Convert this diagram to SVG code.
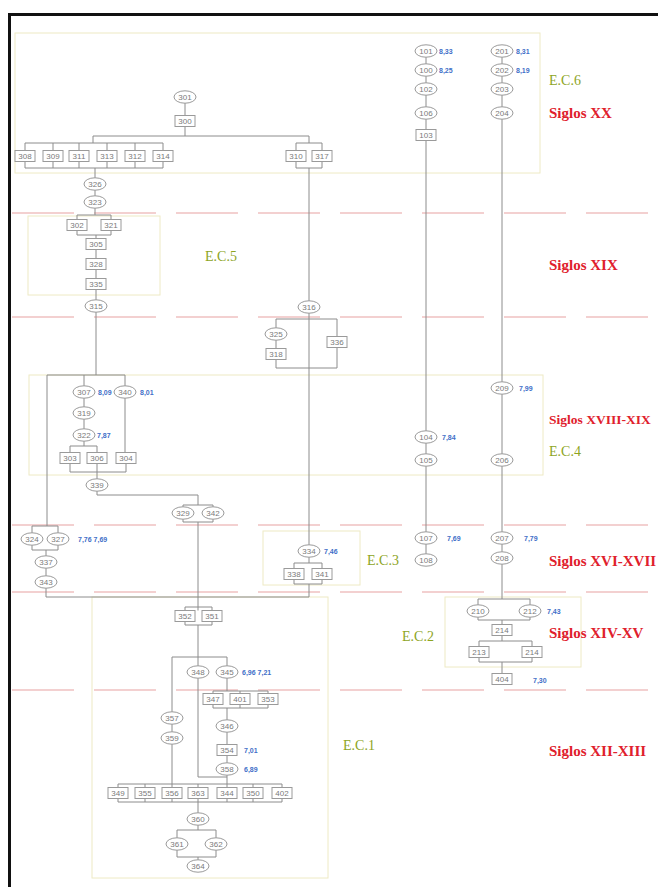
<svg xmlns="http://www.w3.org/2000/svg" width="658" height="887" viewBox="0 0 658 887">
<style>
.e{fill:#fff;stroke:#9a9a9a;stroke-width:1}
.r{fill:#fff;stroke:#9a9a9a;stroke-width:1}
.t{font-family:"Liberation Sans",Arial,sans-serif;font-size:8px;fill:#7a7a7a;text-anchor:middle;dominant-baseline:central}
.v{font-family:"Liberation Sans",Arial,sans-serif;font-size:7px;font-weight:bold;fill:#3f6fc8;dominant-baseline:central}
.ln{fill:none;stroke:#8c8c8c;stroke-width:1}
.dash{stroke:#e8a2a2;stroke-width:1.2;stroke-dasharray:62 20}
.box{fill:none;stroke:#eeeac4;stroke-width:1}
.ec{font-family:"Liberation Serif","Times New Roman",serif;font-size:14px;fill:#8ea41e}
.sg{font-family:"Liberation Serif","Times New Roman",serif;font-size:15px;font-weight:bold;fill:#e0202c}
</style>
<defs>
<ellipse id="E" class="e" cx="0" cy="0" rx="11" ry="6.2"/>
<rect id="R" class="r" x="-10" y="-5.5" width="20" height="11"/>
</defs>
<rect x="0" y="0" width="658" height="887" fill="#fff"/>

<g id="bands">
<line class="dash" x1="12" y1="213" x2="658" y2="213"/>
<line class="dash" x1="12" y1="317" x2="658" y2="317"/>
<line class="dash" x1="12" y1="525" x2="658" y2="525"/>
<line class="dash" x1="12" y1="592" x2="658" y2="592"/>
<line class="dash" x1="12" y1="690" x2="658" y2="690"/>
<rect class="box" x="15" y="33" width="525" height="140"/>
<rect class="box" x="28" y="216" width="132" height="79"/>
<rect class="box" x="29" y="375" width="514" height="100"/>
<rect class="box" x="263" y="531" width="97" height="54"/>
<rect class="box" x="445" y="597" width="136" height="70"/>
<rect class="box" x="92" y="597" width="236" height="281"/>
</g>

<g id="connectors">
<path class="ln" d="M185 103V115M185 127V136M93 136H309M93 136V143M25 143H163M25 143V150.5M53 143V150.5M79 143V150.5M107 143V150.5M135 143V150.5M163 143V150.5M25 161.5V168M53 161.5V168M79 161.5V168M107 161.5V168M135 161.5V168M163 161.5V168M25 168H163"/>
<path class="ln" d="M309 136V143M296 143H322M296 143V150.5M322 143V150.5M296 161.5V168M322 161.5V168M296 168H322M309 168V301"/>
<path class="ln" d="M95 168V178M95 190V196M95 208V215M77 215H111M77 215V219.5M111 215V219.5M77 230.5V235M111 230.5V235M77 235H111M96 235V238.5M96 249.5V258.5M96 269.5V278.5M96 289.5V300M96 312V375"/>
<path class="ln" d="M47 375H125M84 375V386M125 375V386M84 398V407M84 419V429M84 441V446M70 446H97M70 446V452.5M97 446V452.5M125 398V452.5M70 463.5V472M97 463.5V472M126 463.5V472M70 472H126M97 472V479M97 491V495H198V505M183 505H213M183 505V507M213 505V507M183 519V522M213 519V522M183 522H213M198 522V610.5"/>
<path class="ln" d="M47 375V526M32 526H58M32 526V533M58 526V533M32 545V550M58 545V550M32 550H58M46 550V556M46 568V576M46 588V597H309"/>
<path class="ln" d="M309 313V545M276 319H337M276 319V328M276 340V348.5M337 319V336.5M276 359.5V368M337 347.5V368M276 368H337M309 557V563M294 563H322M294 563V568.5M322 563V568.5M294 579.5V584M322 579.5V584M294 584H322M309 584V597"/>
<path class="ln" d="M185 607H212M185 607V610.5M212 607V610.5M185 621.5V625M212 621.5V625M185 625H212M198 625V657M172 657H227M172 657V712M172 724V732M172 744V784M198 657V666M198 678V777H227M227 657V666M227 678V691M213 691H268M213 691V693.5M240 691V693.5M268 691V693.5M213 704.5V708M240 704.5V708M268 704.5V708M213 708H268M227 708V720M227 732V744.5M227 755.5V763M227 775V784"/>
<path class="ln" d="M118 784H282M118 784V787.5M145 784V787.5M172 784V787.5M198 784V787.5M227 784V787.5M253 784V787.5M282 784V787.5M118 798.5V802M145 798.5V802M172 798.5V802M198 798.5V802M227 798.5V802M253 798.5V802M282 798.5V802M118 802H282M198 802V813M198 825V830M177 830H216M177 830V838M216 830V838M177 850V857M216 850V857M177 857H216M198 857V860"/>
<path class="ln" d="M426 57V64M426 76V83M426 95V107M426 119V129.5M426 140.5V431M426 443V454M426 466V532M426 544V554"/>
<path class="ln" d="M502 57V64M502 76V83M502 95V107M502 119V382M502 394V454M502 466V532M502 544V552M502 564V599M478 599H530M478 599V605M530 599V605M478 617V620M530 617V620M478 620H530M502 620V624.5M502 635.5V641M479 641H532M479 641V646.5M532 641V646.5M479 657.5V662M532 657.5V662M479 662H532M502 662V673.5"/>
</g>

<g id="nodes">
<g id="n301"><use href="#E" x="185" y="97"/><text class="t" x="185" y="97">301</text></g>
<g id="n300"><use href="#R" x="185" y="121"/><text class="t" x="185" y="121">300</text></g>
<g id="n308"><use href="#R" x="25" y="156"/><text class="t" x="25" y="156">308</text></g>
<g id="n309"><use href="#R" x="53" y="156"/><text class="t" x="53" y="156">309</text></g>
<g id="n311"><use href="#R" x="79" y="156"/><text class="t" x="79" y="156">311</text></g>
<g id="n313"><use href="#R" x="107" y="156"/><text class="t" x="107" y="156">313</text></g>
<g id="n312"><use href="#R" x="135" y="156"/><text class="t" x="135" y="156">312</text></g>
<g id="n314"><use href="#R" x="163" y="156"/><text class="t" x="163" y="156">314</text></g>
<g id="n310"><use href="#R" x="296" y="156"/><text class="t" x="296" y="156">310</text></g>
<g id="n317"><use href="#R" x="322" y="156"/><text class="t" x="322" y="156">317</text></g>
<g id="n326"><use href="#E" x="95" y="184"/><text class="t" x="95" y="184">326</text></g>
<g id="n323"><use href="#E" x="95" y="202"/><text class="t" x="95" y="202">323</text></g>
<g id="n302"><use href="#R" x="77" y="225"/><text class="t" x="77" y="225">302</text></g>
<g id="n321"><use href="#R" x="111" y="225"/><text class="t" x="111" y="225">321</text></g>
<g id="n305"><use href="#R" x="96" y="244"/><text class="t" x="96" y="244">305</text></g>
<g id="n328"><use href="#R" x="96" y="264"/><text class="t" x="96" y="264">328</text></g>
<g id="n335"><use href="#R" x="96" y="284"/><text class="t" x="96" y="284">335</text></g>
<g id="n315"><use href="#E" x="96" y="306"/><text class="t" x="96" y="306">315</text></g>
<g id="n316"><use href="#E" x="309" y="307"/><text class="t" x="309" y="307">316</text></g>
<g id="n325"><use href="#E" x="276" y="334"/><text class="t" x="276" y="334">325</text></g>
<g id="n318"><use href="#R" x="276" y="354"/><text class="t" x="276" y="354">318</text></g>
<g id="n336"><use href="#R" x="337" y="342"/><text class="t" x="337" y="342">336</text></g>
<g id="n307"><use href="#E" x="84" y="392"/><text class="t" x="84" y="392">307</text></g>
<g id="n340"><use href="#E" x="125" y="392"/><text class="t" x="125" y="392">340</text></g>
<g id="n319"><use href="#E" x="84" y="413"/><text class="t" x="84" y="413">319</text></g>
<g id="n322"><use href="#E" x="84" y="435"/><text class="t" x="84" y="435">322</text></g>
<g id="n303"><use href="#R" x="70" y="458"/><text class="t" x="70" y="458">303</text></g>
<g id="n306"><use href="#R" x="97" y="458"/><text class="t" x="97" y="458">306</text></g>
<g id="n304"><use href="#R" x="126" y="458"/><text class="t" x="126" y="458">304</text></g>
<g id="n339"><use href="#E" x="97" y="485"/><text class="t" x="97" y="485">339</text></g>
<g id="n329"><use href="#E" x="183" y="513"/><text class="t" x="183" y="513">329</text></g>
<g id="n342"><use href="#E" x="213" y="513"/><text class="t" x="213" y="513">342</text></g>
<g id="n324"><use href="#E" x="32" y="539"/><text class="t" x="32" y="539">324</text></g>
<g id="n327"><use href="#E" x="58" y="539"/><text class="t" x="58" y="539">327</text></g>
<g id="n337"><use href="#E" x="46" y="562"/><text class="t" x="46" y="562">337</text></g>
<g id="n343"><use href="#E" x="46" y="582"/><text class="t" x="46" y="582">343</text></g>
<g id="n334"><use href="#E" x="309" y="551"/><text class="t" x="309" y="551">334</text></g>
<g id="n338"><use href="#R" x="294" y="574"/><text class="t" x="294" y="574">338</text></g>
<g id="n341"><use href="#R" x="322" y="574"/><text class="t" x="322" y="574">341</text></g>
<g id="n352"><use href="#R" x="185" y="616"/><text class="t" x="185" y="616">352</text></g>
<g id="n351"><use href="#R" x="212" y="616"/><text class="t" x="212" y="616">351</text></g>
<g id="n348"><use href="#E" x="198" y="672"/><text class="t" x="198" y="672">348</text></g>
<g id="n345"><use href="#E" x="227" y="672"/><text class="t" x="227" y="672">345</text></g>
<g id="n347"><use href="#R" x="213" y="699"/><text class="t" x="213" y="699">347</text></g>
<g id="n401"><use href="#R" x="240" y="699"/><text class="t" x="240" y="699">401</text></g>
<g id="n353"><use href="#R" x="268" y="699"/><text class="t" x="268" y="699">353</text></g>
<g id="n357"><use href="#E" x="172" y="718"/><text class="t" x="172" y="718">357</text></g>
<g id="n359"><use href="#E" x="172" y="738"/><text class="t" x="172" y="738">359</text></g>
<g id="n346"><use href="#E" x="227" y="726"/><text class="t" x="227" y="726">346</text></g>
<g id="n354"><use href="#R" x="227" y="750"/><text class="t" x="227" y="750">354</text></g>
<g id="n358"><use href="#E" x="227" y="769"/><text class="t" x="227" y="769">358</text></g>
<g id="n349"><use href="#R" x="118" y="793"/><text class="t" x="118" y="793">349</text></g>
<g id="n355"><use href="#R" x="145" y="793"/><text class="t" x="145" y="793">355</text></g>
<g id="n356"><use href="#R" x="172" y="793"/><text class="t" x="172" y="793">356</text></g>
<g id="n363"><use href="#R" x="198" y="793"/><text class="t" x="198" y="793">363</text></g>
<g id="n344"><use href="#R" x="227" y="793"/><text class="t" x="227" y="793">344</text></g>
<g id="n350"><use href="#R" x="253" y="793"/><text class="t" x="253" y="793">350</text></g>
<g id="n402"><use href="#R" x="282" y="793"/><text class="t" x="282" y="793">402</text></g>
<g id="n360"><use href="#E" x="198" y="819"/><text class="t" x="198" y="819">360</text></g>
<g id="n361"><use href="#E" x="177" y="844"/><text class="t" x="177" y="844">361</text></g>
<g id="n362"><use href="#E" x="216" y="844"/><text class="t" x="216" y="844">362</text></g>
<g id="n364"><use href="#E" x="198" y="866"/><text class="t" x="198" y="866">364</text></g>

<g id="n101"><use href="#E" x="426" y="51"/><text class="t" x="426" y="51">101</text></g>
<g id="n100"><use href="#E" x="426" y="70"/><text class="t" x="426" y="70">100</text></g>
<g id="n102"><use href="#E" x="426" y="89"/><text class="t" x="426" y="89">102</text></g>
<g id="n106"><use href="#E" x="426" y="113"/><text class="t" x="426" y="113">106</text></g>
<g id="n103"><use href="#R" x="426" y="135"/><text class="t" x="426" y="135">103</text></g>
<g id="n104"><use href="#E" x="426" y="437"/><text class="t" x="426" y="437">104</text></g>
<g id="n105"><use href="#E" x="426" y="460"/><text class="t" x="426" y="460">105</text></g>
<g id="n107"><use href="#E" x="426" y="538"/><text class="t" x="426" y="538">107</text></g>
<g id="n108"><use href="#E" x="426" y="560"/><text class="t" x="426" y="560">108</text></g>
<g id="n201"><use href="#E" x="502" y="51"/><text class="t" x="502" y="51">201</text></g>
<g id="n202"><use href="#E" x="502" y="70"/><text class="t" x="502" y="70">202</text></g>
<g id="n203"><use href="#E" x="502" y="89"/><text class="t" x="502" y="89">203</text></g>
<g id="n204"><use href="#E" x="502" y="113"/><text class="t" x="502" y="113">204</text></g>
<g id="n209"><use href="#E" x="502" y="388"/><text class="t" x="502" y="388">209</text></g>
<g id="n206"><use href="#E" x="502" y="460"/><text class="t" x="502" y="460">206</text></g>
<g id="n207"><use href="#E" x="502" y="538"/><text class="t" x="502" y="538">207</text></g>
<g id="n208"><use href="#E" x="502" y="558"/><text class="t" x="502" y="558">208</text></g>
<g id="n210"><use href="#E" x="478" y="611"/><text class="t" x="478" y="611">210</text></g>
<g id="n212"><use href="#E" x="530" y="611"/><text class="t" x="530" y="611">212</text></g>
<g id="n214a"><use href="#R" x="502" y="630"/><text class="t" x="502" y="630">214</text></g>
<g id="n213"><use href="#R" x="479" y="652"/><text class="t" x="479" y="652">213</text></g>
<g id="n214b"><use href="#R" x="532" y="652"/><text class="t" x="532" y="652">214</text></g>
<g id="n404"><use href="#R" x="502" y="679"/><text class="t" x="502" y="679">404</text></g>
</g>

<g id="values">
<text class="v" x="439" y="51">8,33</text>
<text class="v" x="439" y="70">8,25</text>
<text class="v" x="516" y="51">8,31</text>
<text class="v" x="516" y="70">8,19</text>
<text class="v" x="98" y="392">8,09</text>
<text class="v" x="140" y="392">8,01</text>
<text class="v" x="97" y="435">7,87</text>
<text class="v" x="442" y="437">7,84</text>
<text class="v" x="519" y="388">7,99</text>
<text class="v" x="78" y="539">7,76  7,69</text>
<text class="v" x="324" y="551">7,46</text>
<text class="v" x="447" y="538">7,69</text>
<text class="v" x="524" y="538">7,79</text>
<text class="v" x="547" y="611">7,43</text>
<text class="v" x="533" y="680">7,30</text>
<text class="v" x="242" y="672">6,96  7,21</text>
<text class="v" x="244" y="750">7,01</text>
<text class="v" x="244" y="769">6,89</text>
</g>

<g id="labels">
<text class="ec" x="549" y="85">E.C.6</text>
<text class="ec" x="205" y="261">E.C.5</text>
<text class="ec" x="549" y="456">E.C.4</text>
<text class="ec" x="367" y="565">E.C.3</text>
<text class="ec" x="402" y="641">E.C.2</text>
<text class="ec" x="343" y="750">E.C.1</text>
<text class="sg" x="549" y="118">Siglos XX</text>
<text class="sg" x="549" y="270">Siglos XIX</text>
<text class="sg" x="549" y="424" style="font-size:13.5px">Siglos XVIII-XIX</text>
<text class="sg" x="549" y="566">Siglos XVI-XVII</text>
<text class="sg" x="549" y="638">Siglos XIV-XV</text>
<text class="sg" x="549" y="756">Siglos XII-XIII</text>
</g>

<path d="M9.5 887V14.5H658" fill="none" stroke="#111" stroke-width="3"/>
</svg>
